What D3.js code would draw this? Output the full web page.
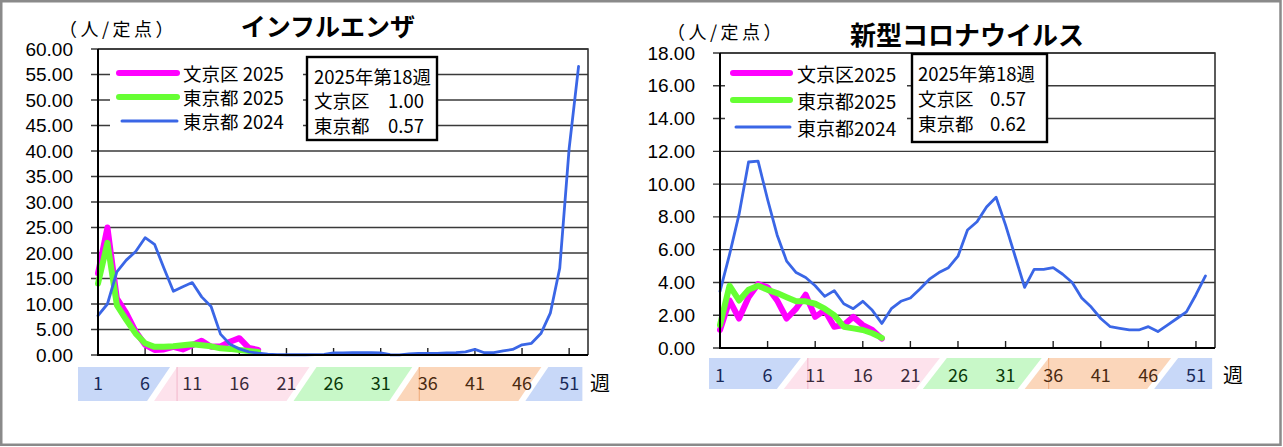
<!DOCTYPE html>
<html><head><meta charset="utf-8">
<script src="https://cdn.jsdelivr.net/npm/d3@7"></script>
<style>
body{margin:0;background:#fff}
svg{display:block}
text{font-family:"Noto Sans CJK JP","Noto Sans",sans-serif;fill:#000}
</style>
</head><body><div id="chart"></div>
<script>
// ---------- data ----------
const weekDomain = [1, 53];
const xTickWeeks = [1, 6, 11, 16, 21, 26, 31, 36, 41, 46, 51];
const fluYTicks = [0, 5, 10, 15, 20, 25, 30, 35, 40, 45, 50, 55, 60];
const covidYTicks = [0, 2, 4, 6, 8, 10, 12, 14, 16, 18];

const fluBunkyo2025 = [16.0, 25.0, 11.1, 8.2, 4.6, 2.0, 1.0, 1.1, 1.6, 1.1, 1.9, 2.8, 1.6, 1.7, 2.6, 3.3, 1.4, 1.00];
const fluTokyo2025  = [14.0, 22.0, 9.8, 6.9, 4.2, 2.3, 1.6, 1.6, 1.7, 1.9, 2.1, 1.9, 1.7, 1.3, 1.2, 1.0, 0.8, 0.57];
const fluTokyo2024  = [7.7, 10.0, 16.3, 18.6, 20.3, 23.0, 21.7, 17.0, 12.5, 13.4, 14.2, 11.4, 9.5, 4.1, 2.1, 1.2, 0.6, 0.35,
  0.15, 0.08, 0.05, 0.05, 0.05, 0.06, 0.1, 0.4, 0.4, 0.45, 0.45, 0.45, 0.4, 0.05, 0.02, 0.2, 0.3, 0.3, 0.3, 0.4,
  0.45, 0.6, 1.1, 0.45, 0.45, 0.8, 1.1, 2.0, 2.3, 4.2, 8.2, 17.0, 40.5, 56.6];

const covidBunkyo2025 = [1.1, 2.9, 1.8, 3.1, 3.9, 3.7, 2.9, 1.8, 2.4, 3.25, 1.9, 2.3, 1.3, 1.4, 1.9, 1.4, 1.1, 0.57];
const covidTokyo2025  = [1.4, 3.8, 2.9, 3.55, 3.8, 3.55, 3.35, 3.1, 2.85, 2.85, 2.7, 2.4, 2.0, 1.3, 1.2, 1.1, 0.9, 0.62];
const covidTokyo2024  = [3.45, 5.7, 8.15, 11.35, 11.4, 9.06, 6.9, 5.3, 4.6, 4.3, 3.8, 3.15, 3.5, 2.7, 2.4, 2.85, 2.3, 1.5,
  2.4, 2.85, 3.05, 3.6, 4.2, 4.6, 4.9, 5.6, 7.2, 7.7, 8.6, 9.2, 7.5, 5.6, 3.7, 4.8, 4.8, 4.9, 4.5, 4.0,
  3.05, 2.5, 1.8, 1.3, 1.2, 1.1, 1.1, 1.3, 1.0, 1.4, 1.8, 2.2, 3.25, 4.4];

const fluLegendNames   = ["文京区 2025", "東京都 2025", "東京都 2024"];
const covidLegendNames = ["文京区2025", "東京都2025", "東京都2024"];
const infoTitle = "2025年第18週";
const infoLabels = ["文京区", "東京都"];
const fluInfoValues = ["1.00", "0.57"];
const covidInfoValues = ["0.57", "0.62"];
const unitLabel = "（人/定点）";
const weekLabel = "週";

const seriesColors = ["#ff00ff", "#66ff33", "#3a66e6"];
const seriesWidths = [6, 6, 2.8];
const seasonFills = ["#c8d8f8", "#fde2ec", "#c8f8c8", "#fbd6ba", "#c8d8f8"];
const seasonText  = ["#1a2a5a", "#3a2a3a", "#0a3a0a", "#4a2a10", "#1a2a5a"];
const seasonEdge  = [null, "#f2b6ca", null, "#f0aa78", null];

// ---------- drawing ----------
const W = 1283, H = 447;
const svg = d3.select("#chart").append("svg").attr("width", W).attr("height", H);
svg.append("rect").attr("x", 1.25).attr("y", 1.25).attr("width", 1279.25).attr("height", 443.5)
  .attr("fill", "#fff").attr("stroke", "#8a8a8a").attr("stroke-width", 2.5);

function drawChart(cfg) {
  const g = svg.append("g");
  const x = d3.scaleLinear().domain(weekDomain).range([cfg.left, cfg.right]);
  const y = d3.scaleLinear().domain([0, cfg.yTicks[cfg.yTicks.length - 1]]).range([cfg.bottom, cfg.top]);
  const fmt = d3.format(".2f");

  // gridlines + left ticks
  g.selectAll("line.grid").data(cfg.yTicks).join("line")
    .attr("x1", cfg.left - 7).attr("x2", cfg.right)
    .attr("y1", d => y(d)).attr("y2", d => y(d))
    .attr("stroke", "#3a3a3a").attr("stroke-width", 1.4);

  // legend background
  g.append("rect").attr("x", cfg.legBg[0]).attr("y", cfg.legBg[1])
    .attr("width", cfg.legBg[2]).attr("height", cfg.legBg[3]).attr("fill", "#fff");

  // y tick labels
  g.selectAll("text.yl").data(cfg.yTicks).join("text")
    .attr("x", cfg.left - 25).attr("y", d => y(d)).attr("text-anchor", "end")
    .attr("dominant-baseline", "central").attr("font-size", 19)
    .style("font-family", "'Liberation Sans',Arial,sans-serif")
    .text(d => fmt(d));

  // plot frame: top/right
  g.append("path").attr("d", `M${cfg.left},${cfg.top}H${cfg.right}V${cfg.bottom}`)
    .attr("fill", "none").attr("stroke", "#333").attr("stroke-width", 1.6);

  // x ticks (inside)
  g.selectAll("line.xt").data(xTickWeeks.slice(1)).join("line")
    .attr("x1", d => x(d)).attr("x2", d => x(d))
    .attr("y1", cfg.bottom).attr("y2", cfg.bottom - 7)
    .attr("stroke", "#222").attr("stroke-width", 1.4);

  // series
  const line = d3.line().x((d, i) => x(i + 1)).y(d => y(d)).curve(d3.curveLinear);
  cfg.series.forEach((s, k) => {
    g.append("path").datum(s).attr("d", line)
      .attr("fill", "none").attr("stroke", seriesColors[k]).attr("stroke-width", seriesWidths[k])
      .attr("stroke-linejoin", "round").attr("stroke-linecap", "round");
  });

  // axes (left, bottom)
  g.append("path").attr("d", `M${cfg.left},${cfg.top}V${cfg.bottom}H${cfg.right}`)
    .attr("fill", "none").attr("stroke", "#000").attr("stroke-width", 2);

  // season bands
  const bx = cfg.bandBounds.map(b => x(b));
  const s = cfg.bandSlant / 2, gp = 3.5;
  const nb = seasonFills.length;
  for (let i = 0; i < nb; i++) {
    let tl, bl, tr, br;
    if (i === 0) { tl = bl = cfg.bandStart; } else { tl = bx[i - 1] + s + gp; bl = bx[i - 1] - s + gp; }
    if (i === nb - 1) { tr = br = x(cfg.bandEndWeek); } else { tr = bx[i] + s - gp; br = bx[i] - s - gp; }
    g.append("path").attr("d", `M${bl},${cfg.bandY1}L${tl},${cfg.bandY0}L${tr},${cfg.bandY0}L${br},${cfg.bandY1}Z`)
      .attr("fill", seasonFills[i]);
    if (seasonEdge[i]) {
      g.append("line").attr("x1", tl).attr("x2", tl).attr("y1", cfg.bandY0).attr("y2", cfg.bandY1)
        .attr("stroke", seasonEdge[i]).attr("stroke-width", 1);
    }
  }
  const seasonOf = w => { let i = 0; while (i < cfg.bandBounds.length && w > cfg.bandBounds[i]) i++; return i; };
  g.selectAll("text.xl").data(xTickWeeks).join("text")
    .attr("x", d => x(d)).attr("y", cfg.xLabelY).attr("text-anchor", "middle")
    .attr("dominant-baseline", "central").attr("font-size", 18)
    .style("fill", d => seasonText[seasonOf(d)])
    .text(d => d);
  g.append("text").attr("x", cfg.weekX).attr("y", cfg.xLabelY).attr("text-anchor", "middle")
    .attr("dominant-baseline", "central").attr("font-size", 20).text(weekLabel);

  // unit + title
  g.append("text").attr("x", cfg.unitX).attr("y", cfg.unitY).attr("text-anchor", "middle")
    .attr("dominant-baseline", "central").attr("font-size", 18).attr("letter-spacing", 3.5)
    .text(unitLabel);
  g.append("text").attr("x", cfg.titleX).attr("y", cfg.titleY).attr("text-anchor", "middle")
    .attr("dominant-baseline", "central").attr("font-size", cfg.titleSize).attr("font-weight", "bold")
    .text(cfg.title);

  // legend
  cfg.legendNames.forEach((n, k) => {
    const ly = cfg.legY[k];
    g.append("line").attr("x1", cfg.legX[0] + (k === 2 ? 3 : 0)).attr("x2", cfg.legX[1])
      .attr("y1", ly).attr("y2", ly).attr("stroke", seriesColors[k])
      .attr("stroke-width", k === 2 ? 3 : 6).attr("stroke-linecap", "round");
    g.append("text").attr("x", cfg.legTextX).attr("y", ly).attr("dominant-baseline", "central")
      .attr("font-size", cfg.legFont).text(n);
  });

  // info box
  const ib = cfg.infoBox;
  g.append("rect").attr("x", ib[0]).attr("y", ib[1]).attr("width", ib[2]).attr("height", ib[3])
    .attr("fill", "#fff").attr("stroke", "#000").attr("stroke-width", 2.4);
  g.append("text").attr("x", cfg.infoTextX).attr("y", cfg.infoY[0]).attr("dominant-baseline", "central")
    .attr("font-size", 18.5).text(infoTitle);
  infoLabels.forEach((lb, k) => {
    g.append("text").attr("x", cfg.infoTextX).attr("y", cfg.infoY[k + 1]).attr("dominant-baseline", "central")
      .attr("font-size", 18.5).text(lb);
    g.append("text").attr("x", cfg.infoValX).attr("y", cfg.infoY[k + 1]).attr("dominant-baseline", "central")
      .attr("font-size", 18.5).text(cfg.infoValues[k]);
  });
}

drawChart({
  left: 98, right: 588, top: 49, bottom: 355,
  yTicks: fluYTicks,
  series: [fluBunkyo2025, fluTokyo2025, fluTokyo2024],
  legBg: [110, 55, 193, 80],
  bandBounds: [7.8, 22.6, 33.5, 47.2], bandSlant: 23, bandStart: 78, bandEndWeek: 52.4,
  bandY0: 367, bandY1: 401, xLabelY: 382, weekX: 600,
  unitX: 118, unitY: 28, title: "インフルエンザ", titleX: 328, titleY: 25, titleSize: 25,
  legendNames: fluLegendNames, legX: [119, 177], legY: [73, 97, 121], legTextX: 183, legFont: 18.5,
  infoBox: [307, 57, 130, 83], infoTextX: 314, infoValX: 388, infoY: [76, 100, 125],
  infoValues: fluInfoValues
});

drawChart({
  left: 720, right: 1215, top: 53, bottom: 348,
  yTicks: covidYTicks,
  series: [covidBunkyo2025, covidTokyo2025, covidTokyo2024],
  legBg: [725, 58, 182, 84],
  bandBounds: [8.6, 23.2, 33.9, 47.5], bandSlant: 24, bandStart: 709, bandEndWeek: 52.7,
  bandY0: 358, bandY1: 389, xLabelY: 374, weekX: 1233,
  unitX: 726, unitY: 31, title: "新型コロナウイルス", titleX: 967, titleY: 33, titleSize: 26,
  legendNames: covidLegendNames, legX: [733, 790], legY: [73, 100, 127], legTextX: 797, legFont: 19,
  infoBox: [912, 54, 135, 88], infoTextX: 918, infoValX: 990, infoY: [73, 98, 123],
  infoValues: covidInfoValues
});
</script>
</body></html>
